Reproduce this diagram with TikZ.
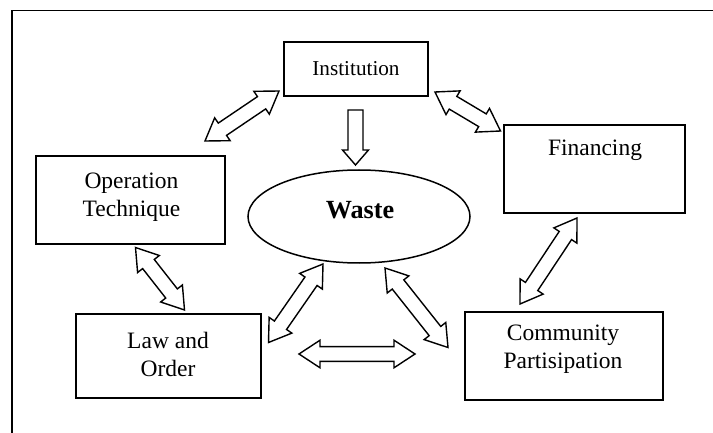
\documentclass[tikz,border=0pt]{standalone}
\usepackage{fontspec}
\setmainfont{Liberation Serif}
\usetikzlibrary{calc,shapes.geometric}
\tikzset{
  boxnode/.style={draw, line width=0.75pt, rectangle, inner sep=0pt},
  txt/.style={align=center, inner sep=0pt, font=\fontsize{11.75}{14}\selectfont},
  blk/.style={draw, line width=0.7pt, fill=white, line join=miter},
  frameline/.style={line width=0.8pt}
}
\newcommand\hl{10.5pt}
\newcommand\hw{6.9pt}
\newcommand\sw{3.7pt}
\newcommand\dblarrow[2]{%
  \path ($(#1)!\hl!(#2)$) coordinate (pa) ($(#2)!\hl!(#1)$) coordinate (pb);
  \draw[blk] (#1) -- ($(pa)!\hw!90:(#2)$) -- ($(pa)!\sw!90:(#2)$) -- ($(pb)!\sw!90:(#2)$)
    -- ($(pb)!\hw!90:(#2)$) -- (#2) -- ($(pb)!\hw!-90:(#2)$) -- ($(pb)!\sw!-90:(#2)$)
    -- ($(pa)!\sw!-90:(#2)$) -- ($(pa)!\hw!-90:(#2)$) -- cycle;}
\begin{document}
\begin{tikzpicture}[x=0.5pt,y=-0.5pt]
\useasboundingbox (0,0) rectangle (713,433);
% frame
\coordinate (fbl) at (12,433);
\coordinate (ftl) at (12,10.5);
\coordinate (ftr) at (713,10.5);
\draw[frameline] (fbl) -- (ftl) -- (ftr);
% boxes
\node[boxnode, minimum width=72pt, minimum height=27pt] (inst) at (356,69) {};
\node[txt, font=\fontsize{10.6}{13}\selectfont] (insttxt) at (356,68.5) {Institution};
\node[boxnode, minimum width=90.5pt, minimum height=44pt] (fin) at (594.5,169) {};
\node[txt] (fintxt) at (595,150) {Financing};
\node[boxnode, minimum width=94.5pt, minimum height=44pt] (op) at (130.5,200) {};
\node[txt] (optxt) at (131.5,197) {Operation\\Technique};
\node[boxnode, minimum width=92.5pt, minimum height=42pt] (law) at (168.5,356) {};
\node[txt] (lawtxt) at (168,354) {Law and\\Order};
\node[boxnode, minimum width=99pt, minimum height=44pt] (com) at (564,356) {};
\node[txt] (comtxt) at (563,349) {Community\\Partisipation};
\node[draw, ellipse, line width=0.75pt, minimum width=111pt, minimum height=46.5pt, inner sep=0pt] (waste) at (359,216.5) {};
\node[inner sep=0pt, font=\fontsize{13.1}{15}\selectfont\bfseries] (wastetxt) at (360,210) {Waste};
% arrow tips
\coordinate (a1) at (205,141);   \coordinate (b1) at (279,91);
\coordinate (a2) at (435,92);    \coordinate (b2) at (500.5,131);
\coordinate (a3) at (135.5,247.5); \coordinate (b3) at (184.5,310);
\coordinate (a4) at (323,264);   \coordinate (b4) at (268.5,342.5);
\coordinate (a5) at (385,268);   \coordinate (b5) at (448,347.5);
\coordinate (a6) at (577,218);   \coordinate (b6) at (520,304);
\coordinate (a7) at (299,354);   \coordinate (b7) at (415,354);
\dblarrow{a1}{b1}
\dblarrow{a2}{b2}
\dblarrow{a3}{b3}
\dblarrow{a4}{b4}
\dblarrow{a5}{b5}
\dblarrow{a6}{b6}
\dblarrow{a7}{b7}
% single down arrow Institution -> Waste
\coordinate (d0) at (355.5,110);
\coordinate (d1) at (355.5,165);
\draw[blk] ($(d0)+(-7.5,0)$) -- ($(d0)+(7.5,0)$) -- ($(d1)+(7.5,-15)$) -- ($(d1)+(13,-15)$)
  -- (d1) -- ($(d1)+(-13,-15)$) -- ($(d1)+(-7.5,-15)$) -- cycle;
\end{tikzpicture}
\end{document}
